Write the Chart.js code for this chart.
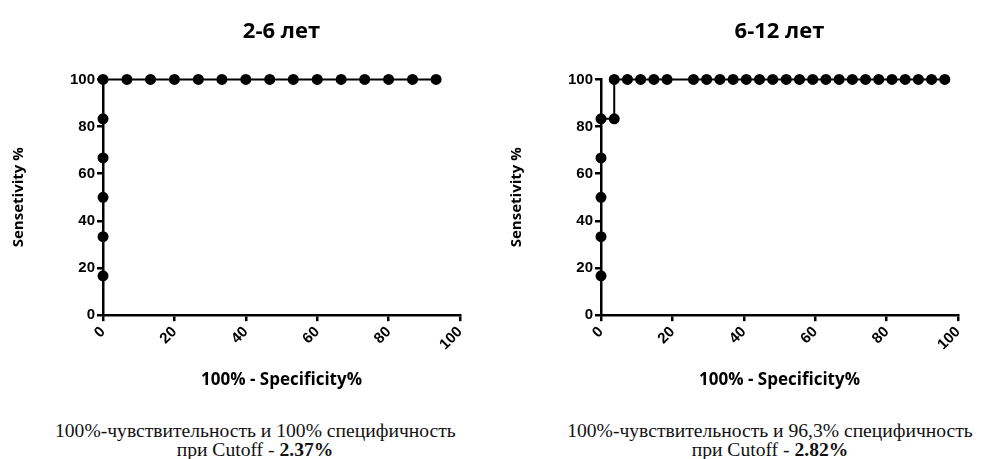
<!DOCTYPE html>
<html lang="ru">
<head>
<meta charset="UTF-8">
<title>ROC</title>
<script src="https://cdn.jsdelivr.net/npm/chart.js"></script>
<style>
  body { margin: 0; background: #fff; width: 981px; height: 459px; position: relative; overflow: hidden; }
  .grafico { position: absolute; top: 0; height: 400px; width: 490px; }
  .legenda { position: absolute; top: 421px; font-family: "Liberation Serif", "DejaVu Serif", serif; font-size: 19.6px; line-height: 19px; color: #111; text-align: center; white-space: nowrap; }
</style>
</head>
<body>

<div class="grafico" style="left:0;"><canvas id="graficoEsq"></canvas></div>
<div class="grafico" style="left:498px;"><canvas id="graficoDir"></canvas></div>

<div class="legenda" style="left:55px; width:400px;">100%-чувствительность и 100% специфичность<br>при Cutoff - <b>2.37%</b></div>
<div class="legenda" style="left:563px; width:414px;">100%-чувствительность и 96,3% специфичность<br>при Cutoff - <b>2.82%</b></div>

<script>
    // 2-6 лет
    const titulos = ['2-6 лет', '6-12 лет'];
    const xEsq = [0, 0, 0, 0, 0, 0, 0, 6.7, 13.3, 20, 26.7, 33.3, 40, 46.7, 53.3, 60, 66.7, 73.3, 80, 86.7, 93.3];
    const yEsq = [0, 16.7, 33.3, 50, 66.7, 83.3, 100, 100, 100, 100, 100, 100, 100, 100, 100, 100, 100, 100, 100, 100, 100];

    // 6-12 лет
    const xDir = [0, 0, 0, 0, 0, 0, 3.7, 3.7, 7.4, 11.1, 14.8, 18.5, 25.9, 29.6, 33.3, 37.0, 40.7, 44.4, 48.1, 51.9, 55.6, 59.3, 63.0, 66.7, 70.4, 74.1, 77.8, 81.5, 85.2, 88.9, 92.6, 96.3];
    const yDir = [0, 16.7, 33.3, 50, 66.7, 83.3, 83.3, 100, 100, 100, 100, 100, 100, 100, 100, 100, 100, 100, 100, 100, 100, 100, 100, 100, 100, 100, 100, 100, 100, 100, 100, 100];

    const ticksEixo = [0, 20, 40, 60, 80, 100];
    const tituloX = '100% - Specificity%';
    const tituloY = 'Sensetivity %';

    function montarPontos(xs, ys) {
        let pontos = [];
        for (let i = 0; i < xs.length; i++) {
            pontos.push({ x: xs[i], y: ys[i] });
        }
        return pontos;
    }

    function plotarGrafico(id, titulo, xs, ys) {
        const ctx = document.getElementById(id);

        const eixo = {
            type: 'linear',
            min: 0,
            max: 100,
            border: { display: true, color: '#000', width: 2.5 },
            grid: { display: true, drawOnChartArea: false, color: '#000', lineWidth: 2.5, tickLength: 6 },
            afterBuildTicks: (axis) => { axis.ticks = ticksEixo.map(v => ({ value: v })); },
            ticks: {
                color: '#000',
                font: { family: 'Liberation Sans', size: 15, weight: 'bold' },
                padding: 2
            }
        };

        new Chart(ctx, {
            type: 'line',
            data: {
                datasets: [{
                    data: montarPontos(xs, ys),
                    borderColor: '#000',
                    backgroundColor: '#000',
                    borderWidth: 2,
                    pointRadius: (c) => (c.raw && c.raw.y === 0 ? 0 : 4.5),
                    pointHoverRadius: 4.5,
                    tension: 0,
                    clip: false
                }]
            },
            options: {
                responsive: false,
                animation: false,
                devicePixelRatio: 1,
                layout: { padding: { left: 10, right: 30, top: 0, bottom: 6 } },
                plugins: {
                    legend: { display: false },
                    tooltip: { enabled: false },
                    title: {
                        display: true,
                        fullSize: false,
                        text: titulo,
                        color: '#000',
                        font: { family: 'Open Sans', size: 22, weight: 'bold' },
                        padding: { top: 19, bottom: 34 }
                    }
                },
                scales: {
                    x: Object.assign({}, eixo, {
                        ticks: Object.assign({}, eixo.ticks, { maxRotation: 45, minRotation: 45 }),
                        title: {
                            display: true,
                            text: tituloX,
                            color: '#000',
                            font: { family: 'Open Sans', size: 17, weight: 'bold' },
                            padding: { top: 14 }
                        }
                    }),
                    y: Object.assign({}, eixo, {
                        title: {
                            display: true,
                            text: tituloY,
                            color: '#000',
                            font: { family: 'Open Sans', size: 15, weight: 'bold' },
                            padding: { top: 0, bottom: 40 }
                        }
                    })
                }
            }
        });
    }

    document.getElementById('graficoEsq').width = 490;
    document.getElementById('graficoEsq').height = 400;
    document.getElementById('graficoDir').width = 490;
    document.getElementById('graficoDir').height = 400;

    plotarGrafico('graficoEsq', titulos[0], xEsq, yEsq);
    plotarGrafico('graficoDir', titulos[1], xDir, yDir);
</script>
</body>
</html>
